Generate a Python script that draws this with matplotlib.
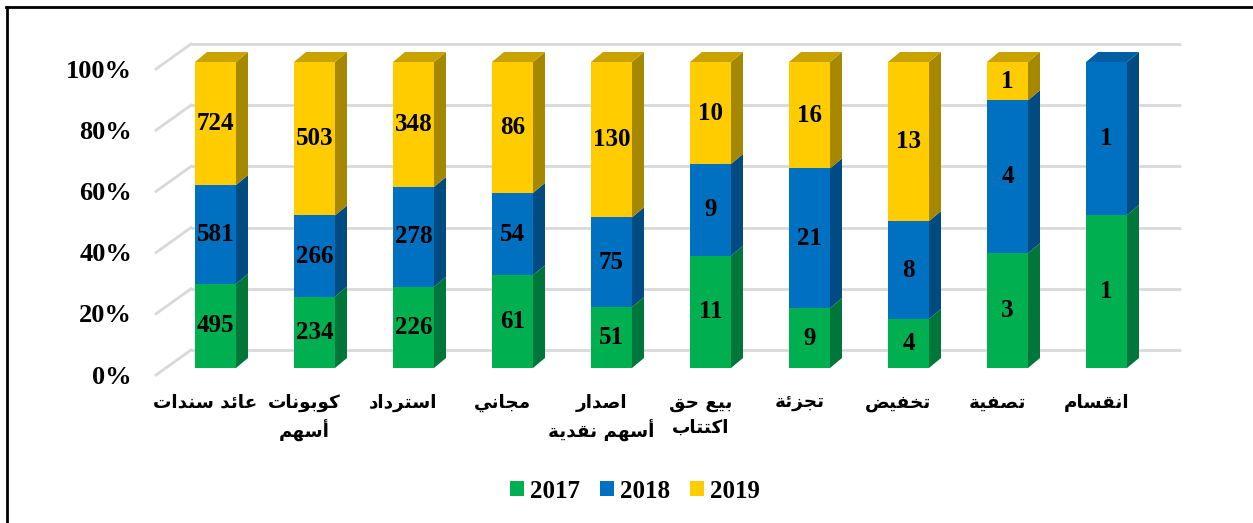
import matplotlib
matplotlib.use('Agg')
import matplotlib.pyplot as plt
from matplotlib.patches import Polygon, Patch, Rectangle
from matplotlib.lines import Line2D

# ---------------- data ----------------
categories = ['عائد سندات', 'كوبونات\nأسهم', 'استرداد', 'مجاني', 'اصدار\nأسهم نقدية',
              'بيع حق\nاكتتاب', 'تجزئة', 'تخفيض', 'تصفية', 'انقسام']
series_names = ['2017', '2018', '2019']
v2017 = [495, 234, 226, 61, 51, 11, 9, 4, 3, 1]
v2018 = [581, 266, 278, 54, 75, 9, 21, 8, 4, 1]
v2019 = [724, 503, 348, 86, 130, 10, 16, 13, 1, 0]
ytick_values = [0, 0.2, 0.4, 0.6, 0.8, 1.0]
ytick_labels = ['0%', '20%', '40%', '60%', '80%', '100%']

front_colors = ['#00B050', '#0070C0', '#FFCC00']
side_colors = ['#00773A', '#004C82', '#A68700']
top_colors = ['#009444', '#005FA3', '#C9A200']

# ------------- simple Arabic shaping (presentation forms) -------------
_two = {'ا': 0xFE8D, 'أ': 0xFE83, 'د': 0xFEA9, 'ر': 0xFEAD, 'ز': 0xFEAF,
        'و': 0xFEED, 'ة': 0xFE93}
_four = {'ب': 0xFE8F, 'ت': 0xFE95, 'ج': 0xFE9D, 'ح': 0xFEA1, 'خ': 0xFEA5,
         'س': 0xFEB1, 'ص': 0xFEB9, 'ض': 0xFEBD, 'ع': 0xFEC9, 'ف': 0xFED1,
         'ق': 0xFED5, 'ك': 0xFED9, 'م': 0xFEE1, 'ن': 0xFEE5, 'ه': 0xFEE9,
         'ي': 0xFEF1, 'ئ': 0xFE89}


def _shape_line(s):
    out = []
    for i, ch in enumerate(s):
        if ch not in _two and ch not in _four:
            out.append(ch)
            continue
        prev_j = i > 0 and s[i - 1] in _four
        next_j = ch in _four and i + 1 < len(s) and (s[i + 1] in _four or s[i + 1] in _two)
        if ch in _two:
            out.append(chr(_two[ch] + (1 if prev_j else 0)))
        else:
            if prev_j and next_j:
                off = 3
            elif prev_j:
                off = 1
            elif next_j:
                off = 2
            else:
                off = 0
            out.append(chr(_four[ch] + off))
    return ''.join(reversed(out))


def shape(s):
    return '\n'.join(_shape_line(l) for l in s.split('\n'))


# ---------------- figure ----------------
W, H = 1253, 523
fig = plt.figure(figsize=(W / 100, H / 100), dpi=100)
ax = fig.add_axes([0, 0, 1, 1])
ax.set_axis_off()

px_x = 99.0          # pixels per category
px_y = 306.0         # pixels per 100%
x0_px = 215.5        # first bar front centre
y0_px = 368.0        # baseline of front plane (from top)
ax.set_xlim(-x0_px / px_x, (W - x0_px) / px_x)
ax.set_ylim((y0_px - H) / px_y, y0_px / px_y)

bw = 41 / px_x                      # bar width
bdx, bdy = 12 / px_x, 10 / px_y     # bar depth offset
wdx, wdy = 25 / px_x, 18 / px_y     # back wall offset
fdx, fdy = -10 / px_x, -7 / px_y    # floor front offset
n = len(categories)
xl, xr = -0.5, n - 0.5

gcol = '#D9D9D9'
for v, lab in zip(ytick_values, ytick_labels):
    ax.plot([xl + wdx, xr + wdx], [v + wdy, v + wdy], color=gcol, lw=2, zorder=1,
            solid_capstyle='butt')
    ax.plot([xl + fdx, xl + wdx], [v + fdy, v + wdy], color=gcol, lw=2, zorder=1)
    ax.text(xl - 34 / px_x, v + fdy - 2 / px_y, lab,
            ha='right', va='center', fontsize=19, fontweight='bold',
            family='Liberation Serif', color='black')

series = [v2017, v2018, v2019]
for i in range(n):
    total = sum(s[i] for s in series)
    bottom = 0.0
    top_idx = max(k for k in range(3) if series[k][i] > 0)
    for k, s in enumerate(series):
        val = s[i]
        if val <= 0:
            continue
        h = val / total
        z = 3 + k
        ax.add_patch(Rectangle((i - bw / 2, bottom), bw, h, facecolor=front_colors[k],
                               edgecolor='none', zorder=z))
        xr_b = i + bw / 2
        ax.add_patch(Polygon([(xr_b, bottom), (xr_b + bdx, bottom + bdy),
                              (xr_b + bdx, bottom + h + bdy), (xr_b, bottom + h)],
                             closed=True, facecolor=side_colors[k], edgecolor='none', zorder=z))
        if k == top_idx:
            t = bottom + h
            ax.add_patch(Polygon([(i - bw / 2, t), (i - bw / 2 + bdx, t + bdy),
                                  (xr_b + bdx, t + bdy), (xr_b, t)],
                                 closed=True, facecolor=top_colors[k], edgecolor='none', zorder=z))
        ax.text(i, bottom + h / 2, str(val), ha='center', va='center', fontsize=18,
                fontweight='bold', family='Liberation Serif', color='black', zorder=10)
        bottom += h

for i, c in enumerate(categories):
    ax.text(i + fdx, -26 / px_y, shape(c), ha='center', va='top', fontsize=13.2,
            fontweight='bold', family=['DejaVu Sans'], linespacing=1.45, color='black')

handles = [Patch(facecolor=front_colors[k], edgecolor='none', label=series_names[k])
           for k in range(3)]
fig.legend(handles=handles, loc='center', bbox_to_anchor=(635 / W, 1 - 491 / H), ncol=3,
           frameon=False, handlelength=0.55, handleheight=0.55, handletextpad=0.25,
           columnspacing=0.8, prop={'family': 'Liberation Serif', 'weight': 'bold', 'size': 18})

fig.add_artist(Line2D([6 / W, 1.0], [1 - 7 / H, 1 - 7 / H], color='black', lw=2,
                      transform=fig.transFigure))
fig.add_artist(Line2D([7 / W, 7 / W], [1 - 7 / H, 0.0], color='black', lw=2,
                      transform=fig.transFigure))

fig.savefig('out.png', dpi=100)
